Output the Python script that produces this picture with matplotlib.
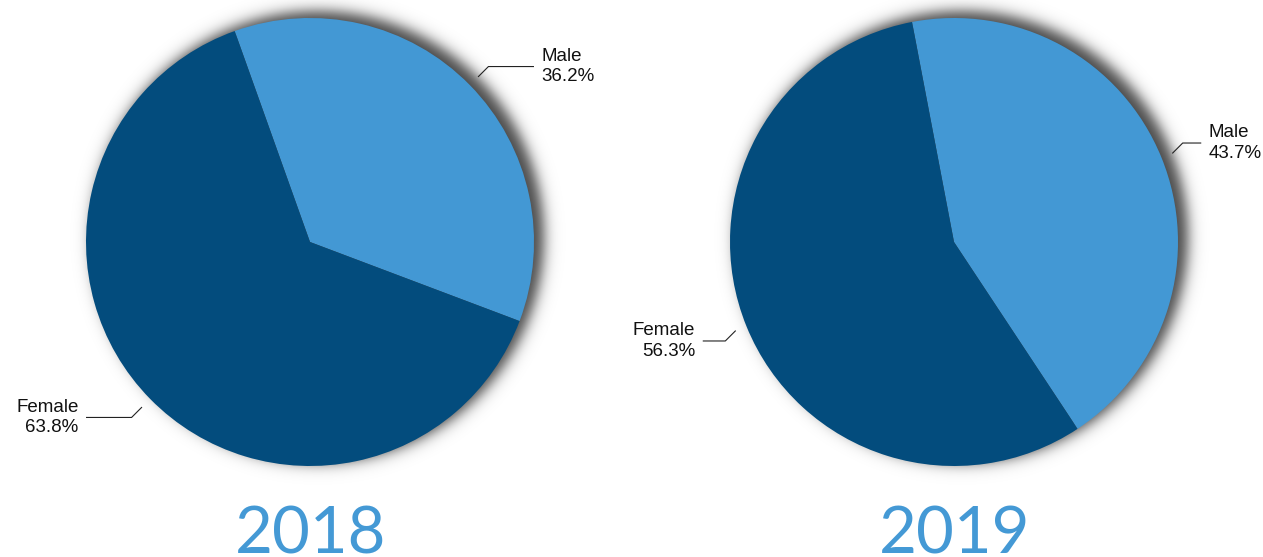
import numpy as np
import matplotlib.pyplot as plt

# ---- data ----
years = ["2018", "2019"]
labels = ["Male", "Female"]
male = [36.2, 43.7]
female = [63.8, 56.3]
start_angles = [109.65, 100.8]

# ---- style ----
LIGHT = "#4398d4"
DARK = "#034c7d"
TITLE = "#4499d5"
W, H = 1263, 557
R = 224
centers = [(310, 315), (954, 315)]
leader_len = [[45, 45], [18, 22]]

fig = plt.figure(figsize=(W / 100, H / 100), dpi=100)
ax = fig.add_axes([0, 0, 1, 1])

# soft drop shadow behind each pie
yy, xx = np.mgrid[0:H, 0:W] + 0.5
alpha = np.zeros((H, W))
for cx, cy in centers:
    d = np.hypot(xx - (cx + 8), yy - (cy + 5))
    alpha = np.maximum(alpha, 0.72 / (1 + np.exp((d - 226) / 4.2)))
img = np.zeros((H, W, 4))
img[..., 3] = alpha
ax.imshow(img, extent=(0, W, 0, H), origin="lower", zorder=0,
          interpolation="bilinear")

for k, year in enumerate(years):
    vals = [male[k], female[k]]
    cx, cy = centers[k]
    ax.pie(vals, colors=[LIGHT, DARK], startangle=start_angles[k],
           counterclock=False, center=(cx, cy), radius=R,
           wedgeprops=dict(linewidth=0), frame=True)
    cum = 0
    for i, v in enumerate(vals):
        mid = np.deg2rad(start_angles[k] - (cum + v / 2) * 3.6)
        cum += v
        c, s = np.cos(mid), np.sin(mid)
        x0, y0 = cx + 1.054 * R * c, cy + 1.054 * R * s
        sx, sy = np.sign(c), np.sign(s)
        x1, y1 = x0 + 10 * sx, y0 + 10 * sy
        x2 = x1 + leader_len[k][i] * sx
        ax.plot([x0, x1, x2], [y0, y1, y1], color="#222222", lw=0.8,
                zorder=5)
        ax.text(x2 + 8 * sx, y1, f"{labels[i]}\n{v:.1f}%",
                ha="left" if sx > 0 else "right", va="center",
                fontsize=13.5, family="Liberation Sans", color="#111111",
                linespacing=1.25, multialignment="left" if sx > 0 else "right")
    ax.text(cx + 1, 4, year, ha="center", va="baseline", fontsize=47,
            family="Lato", color=TITLE)

ax.set_xlim(0, W)
ax.set_ylim(0, H)
ax.set_aspect("equal")
ax.axis("off")
fig.savefig("out.png", dpi=100)
